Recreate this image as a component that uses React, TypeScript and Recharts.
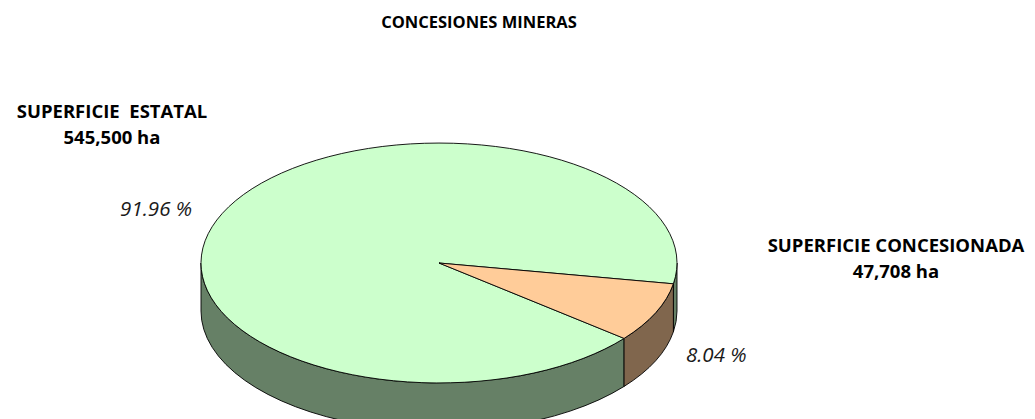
import { PieChart, Pie, Cell, Tooltip } from 'recharts';

const categories = ['SUPERFICIE  ESTATAL', 'SUPERFICIE CONCESIONADA'];
const hectares = [545500, 47708];
const topColors = ['#CCFFCC', '#FFCC99'];
const sideColors = ['#668066', '#80664D'];

const data = categories.map((name, i) => ({ name, value: hectares[i] }));

const W = 1035;
const H = 419;
const CX = 439;
const CY = 263;
const RX = 238;
const TILT = 0.504; // ry / rx of the top face
const DEPTH = 48;
const FONT = '"Open Sans", "Noto Sans", sans-serif';
const RAD = Math.PI / 180;

// where the category captions sit (centre x, first baseline)
const captionAt = [
  { x: 112, y: 118 },
  { x: 896, y: 252 },
];
const LINE_GAP = 26;

function sideOf(props: any) {
  const name = props.name ?? props.payload?.name;
  let i = categories.indexOf(name);
  if (i < 0) i = topColors.indexOf(props.fill);
  return { top: topColors[i] ?? props.fill, side: sideColors[i] ?? '#666' };
}

// elliptical sector plus the visible part of its rim
function Slab(props: any) {
  const { cx, cy, outerRadius, startAngle, endAngle } = props;
  const rx = outerRadius;
  const ry = outerRadius * TILT;
  const p = (a: number, dy = 0) =>
    `${cx + rx * Math.cos(a * RAD)},${cy - ry * Math.sin(a * RAD) + dy}`;
  const { top, side } = sideOf(props);

  const lo = Math.min(startAngle, endAngle);
  const hi = Math.max(startAngle, endAngle);
  const walls: Array<[number, number]> = [];
  for (let k = -2; k <= 1; k++) {
    const b1 = Math.max(lo, 180 + 360 * k);
    const b2 = Math.min(hi, 360 + 360 * k);
    if (b2 - b1 > 0.01) walls.push([b1, b2]);
  }
  const large = Math.abs(endAngle - startAngle) > 180 ? 1 : 0;
  const sweep = endAngle < startAngle ? 1 : 0;

  return (
    <g>
      {walls.map(([b1, b2], j) => (
        <path
          key={j}
          d={`M${p(b1)} A${rx} ${ry} 0 0 0 ${p(b2)} L${p(b2, DEPTH)} A${rx} ${ry} 0 0 1 ${p(b1, DEPTH)} Z`}
          fill={side}
          stroke="#000"
          strokeWidth={0.9}
          strokeLinejoin="round"
        />
      ))}
      <path
        d={`M${cx},${cy} L${p(startAngle)} A${rx} ${ry} 0 ${large} ${sweep} ${p(endAngle)} Z`}
        fill={top}
        stroke="#000"
        strokeWidth={0.9}
        strokeLinejoin="round"
      />
    </g>
  );
}

function PctLabel(props: any) {
  const { cx, cy, outerRadius, midAngle, percent } = props;
  const c = Math.cos(midAngle * RAD);
  const s = Math.sin(midAngle * RAD);
  const x = cx + outerRadius * 1.14 * c;
  const y = cy - outerRadius * TILT * 1.1 * s + (s < 0 ? DEPTH * 0.75 : 0);
  return (
    <text
      x={x}
      y={y}
      textAnchor={c < 0 ? 'end' : 'start'}
      dominantBaseline="central"
      fontFamily={FONT}
      fontStyle="italic"
      fontSize={20.5}
      fill="#1a1a1a"
    >
      {`${(percent * 100).toFixed(2)} %`}
    </text>
  );
}

export default function App() {
  return (
    <div style={{ position: 'absolute', left: 0, top: 0, width: W, height: H, background: '#fff' }}>
      <PieChart width={W} height={H} margin={{ top: 0, right: 0, bottom: 0, left: 0 }}>
        <Pie
          data={data}
          dataKey="value"
          nameKey="name"
          cx={CX}
          cy={CY}
          outerRadius={RX}
          startAngle={321.05}
          endAngle={-38.95}
          isAnimationActive={false}
          shape={Slab}
          activeShape={Slab}
          inactiveShape={Slab}
          label={PctLabel}
          labelLine={false}
        >
          {data.map((d, i) => (
            <Cell key={d.name} fill={topColors[i]} />
          ))}
        </Pie>
        <Tooltip defaultIndex={0} content={() => null} />
      </PieChart>
      <svg
        width={W}
        height={H}
        style={{ position: 'absolute', left: 0, top: 0, pointerEvents: 'none' }}
      >
        <text x={479} y={28} textAnchor="middle" fontFamily={FONT} fontWeight={700} fontSize={16.5} fill="#000">
          CONCESIONES MINERAS
        </text>
        {categories.map((name, i) => (
          <g key={name} fontFamily={FONT} fontWeight={700} fontSize={18.5} fill="#000" textAnchor="middle">
            <text x={captionAt[i].x} y={captionAt[i].y} style={{ whiteSpace: 'pre' }}>
              {name}
            </text>
            <text x={captionAt[i].x} y={captionAt[i].y + LINE_GAP}>
              {`${hectares[i].toLocaleString('en-US')} ha`}
            </text>
          </g>
        ))}
      </svg>
    </div>
  );
}
